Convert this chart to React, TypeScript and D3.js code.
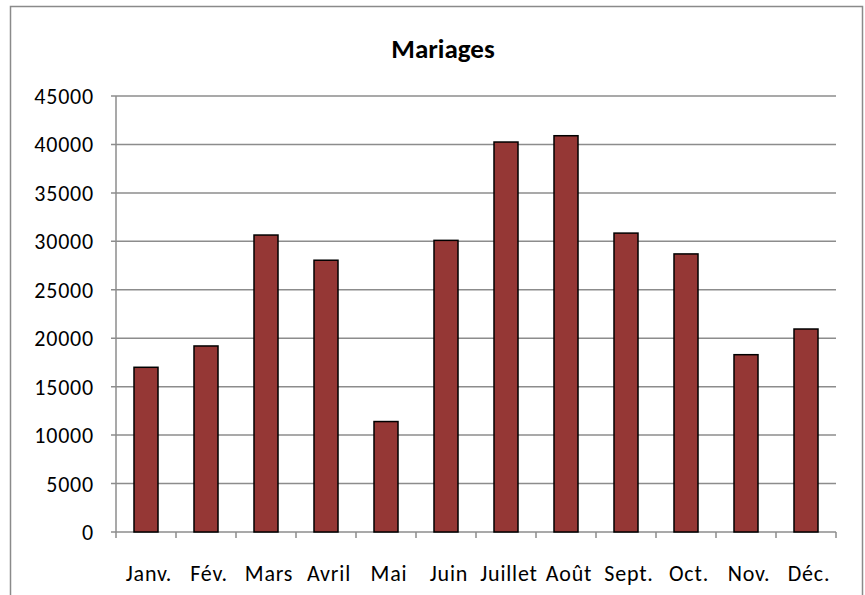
import React from "react";
import * as d3 from "d3";

const months = ["Janv.", "Fév.", "Mars", "Avril", "Mai", "Juin", "Juillet", "Août", "Sept.", "Oct.", "Nov.", "Déc."];
const mariages = [17000, 19200, 30650, 28050, 11400, 30100, 40250, 40900, 30850, 28700, 18300, 20950];
const yTicks = [0, 5000, 10000, 15000, 20000, 25000, 30000, 35000, 40000, 45000];

const W = 865;
const H = 595;
const left = 116;
const right = 836;
const top = 96;
const bottom = 532;
const font = "Carlito, Lato, 'Open Sans', sans-serif";

export default function App() {
  const x = d3.scaleBand<string>().domain(months).range([left, right]).paddingInner(0.6).paddingOuter(0.3);
  const band = d3.scaleBand<string>().domain(months).range([left, right]);
  const y = d3.scaleLinear().domain([0, 45000]).range([bottom, top]);

  return (
    <svg width={W} height={H} style={{ position: "absolute", left: 0, top: 0 }}>
      <rect x={0} y={0} width={W} height={H} fill="#fff" />
      <rect x={10.5} y={6.5} width={852} height={600} fill="none" stroke="#8a8a8a" strokeWidth={1.5} />
      <text x={443} y={58} textAnchor="middle" fontFamily={font} fontWeight="bold" fontSize={27}>
        Mariages
      </text>
      {yTicks.map(t => (
        <g key={t}>
          <line x1={left - 5} x2={right} y1={y(t)} y2={y(t)} stroke="#8c8c8c" strokeWidth={1.5} />
          <text x={94} y={y(t) + 8} textAnchor="end" fontFamily={font} fontSize={22} letterSpacing={0.8}>
            {t}
          </text>
        </g>
      ))}
      <line x1={left} x2={left} y1={top} y2={bottom} stroke="#8c8c8c" strokeWidth={1.5} />
      {months.map(m => (
        <line key={"t" + m} x1={band(m)!} x2={band(m)!} y1={bottom} y2={bottom + 6} stroke="#8c8c8c" strokeWidth={1.5} />
      ))}
      <line x1={right} x2={right} y1={bottom} y2={bottom + 6} stroke="#8c8c8c" strokeWidth={1.5} />
      {months.map((m, i) => (
        <rect
          key={m}
          x={x(m)!}
          y={y(mariages[i])}
          width={x.bandwidth()}
          height={bottom - y(mariages[i])}
          fill="#953735"
          stroke="#000"
          strokeWidth={1.5}
        />
      ))}
      {months.map(m => (
        <text
          key={"l" + m}
          x={band(m)! + band.bandwidth() / 2 + 3}
          y={581}
          textAnchor="middle"
          fontFamily={font}
          fontSize={22}
          letterSpacing={0.8}
        >
          {m}
        </text>
      ))}
    </svg>
  );
}
